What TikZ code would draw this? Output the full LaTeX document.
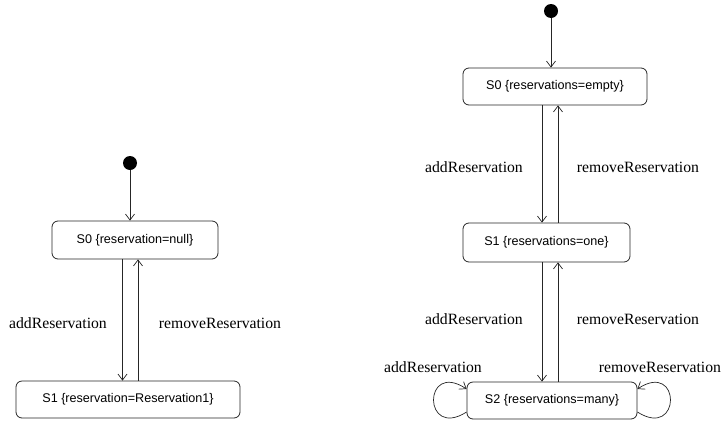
\documentclass[tikz,border=0pt]{standalone}
\usepackage{fontspec}
\setmainfont{Liberation Serif}
\setsansfont{Liberation Sans}
\usetikzlibrary{arrows.meta, positioning, calc}

\tikzset{
    estado/.style={draw=black!85, rounded corners=6pt, line width=0.8pt, inner sep=0pt,
        font=\sffamily\fontsize{12.6}{15}\selectfont},
    inicial/.style={circle, fill=black, inner sep=0pt, minimum size=14pt},
    trans/.style={draw=black!85, line width=0.7pt, -{Straight Barb[length=6pt, width=9pt]}},
    rotulo/.style={inner sep=0pt, font=\fontsize{15.7}{18}\selectfont}
}

\begin{document}
\begin{tikzpicture}[x=1pt, y=-1pt]
    \useasboundingbox (0,0) rectangle (726,421);
    % Diagrama da esquerda
    \node[inicial] (ini1) at (130,163) {};
    \node[estado, minimum width=166pt, minimum height=38pt] (a0) at (135,240) {S0 \{reservation=null\}};
    \node[estado, minimum width=224pt, minimum height=37pt] (a1) at (128,399.5) {S1 \{reservation=Reservation1\}};
    \draw[trans] (ini1) -- (a0.north -| ini1);
    \draw[trans] ($(a0.south -| ini1)+(-7.5,0)$) -- ($(a1.north -| ini1)+(-7.5,0)$);
    \draw[trans] ($(a1.north -| ini1)+(8,0)$) -- ($(a0.south -| ini1)+(8,0)$);
    \node[rotulo] (add1) at (58,323) {addReservation};
    \node[rotulo] (rem1) at (220,323) {removeReservation};
    % Diagrama da direita
    \node[inicial] (ini2) at (551,11) {};
    \node[estado, minimum width=184pt, minimum height=37pt] (b0) at (555,86.5) {S0 \{reservations=empty\}};
    \node[estado, minimum width=167pt, minimum height=39pt] (b1) at (546.5,242.5) {S1 \{reservations=one\}};
    \node[estado, minimum width=170pt, minimum height=37pt] (b2) at (552,400.5) {S2 \{reservations=many\}};
    \draw[trans] (ini2) -- (b0.north -| ini2);
    \draw[trans] ($(b0.south -| ini2)+(-9,0)$) -- ($(b1.north -| ini2)+(-9,0)$);
    \draw[trans] ($(b1.north -| ini2)+(7,0)$) -- ($(b0.south -| ini2)+(7,0)$);
    \draw[trans] ($(b1.south -| ini2)+(-9,0)$) -- ($(b2.north -| ini2)+(-9,0)$);
    \draw[trans] ($(b2.north -| ini2)+(7,0)$) -- ($(b1.south -| ini2)+(7,0)$);
    % Auto-transicoes
    \draw[trans] ([yshift=-11.5pt]b2.west) .. controls +(-44,28) and +(-44,-29) .. ([yshift=11.5pt]b2.west);
    \draw[trans] ([yshift=-11.5pt]b2.east) .. controls +(44,28) and +(44,-29) .. ([yshift=11.5pt]b2.east);
    \node[rotulo] (add2) at (474,167) {addReservation};
    \node[rotulo] (rem2) at (638,167) {removeReservation};
    \node[rotulo] (add3) at (474,319) {addReservation};
    \node[rotulo] (rem3) at (638,319) {removeReservation};
    \node[rotulo] (add4) at (433,367) {addReservation};
    \node[rotulo] (rem4) at (660,367) {removeReservation};
\end{tikzpicture}
\end{document}
